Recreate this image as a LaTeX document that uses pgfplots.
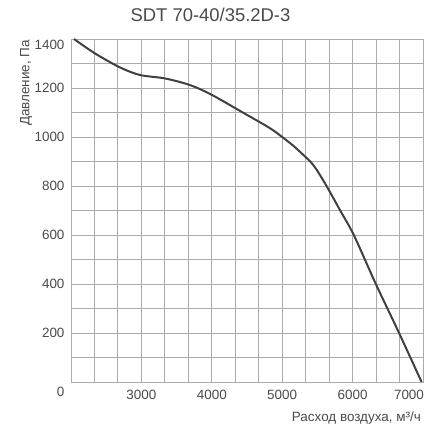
\documentclass[border=0pt]{standalone}
\usepackage{pgfplots}
\pgfplotsset{compat=1.18}
\usepackage{fontspec}
\setmainfont{Liberation Sans}
\definecolor{gridc}{HTML}{ABABAB}
\definecolor{curvec}{HTML}{404040}
\definecolor{textc}{HTML}{4A4A4A}
\begin{document}
\begin{tikzpicture}
\path[use as bounding box] (-71bp,-45bp) rectangle (359bp,382bp);
\begin{axis}[
  at={(0,0)}, anchor=south west,
  scale only axis, width=352bp, height=343bp,
  xmin=2000, xmax=7000, ymin=0, ymax=1400,
  xtick={2000,2333.333,2666.667,3000,3333.333,3666.667,4000,4333.333,4666.667,5000,5333.333,5666.667,6000,6333.333,6666.667,7000},
  xticklabels={,,,3000,,,4000,,,5000,,,6000,,,\hspace*{-28bp}7000},
  ytick={0,100,...,1400},
  yticklabels={\raisebox{-14.8bp}[0pt][0pt]{0},,200,,400,,600,,800,,1000,,1200,,\raisebox{-10.8bp}[0pt][0pt]{1400}},
  grid=major,
  major grid style={gridc, line width=0.9bp},
  axis line style={gridc, line width=0.9bp},
  tick style={draw=none},
  tick label style={font=\fontsize{13.5}{15}\selectfont, text=textc},
  xticklabel style={yshift=-5bp},
  yticklabel style={xshift=-3bp},
  title={SDT 70-40/35.2D-3},
  title style={at={(rel axis cs:0.5,1)}, anchor=base, yshift=12bp, xshift=-36.5bp, font=\fontsize{18.5}{21}\selectfont, text=textc},
  xlabel={Расход воздуха, м³/ч},
  xlabel style={at={(rel axis cs:1,0)}, anchor=north east, inner sep=0pt, yshift=-30bp, xshift=-2bp, font=\fontsize{13.5}{15}\selectfont, text=textc},
  ylabel={Давление, Па},
  ylabel style={at={(rel axis cs:0,1)}, anchor=east, inner sep=0pt, yshift=45bp, xshift=-1bp, font=\fontsize{13.5}{15}\selectfont, text=textc},
  clip=true,
]
\addplot[curvec, line width=2bp, smooth, tension=0.5] coordinates {
(2043,1400) (2341,1341) (2696,1284) (2980,1253) (3335,1239) (3690,1212)
(4000,1172) (4440,1100) (4815,1038) (5000,1000) (5167,962) (5333,918) (5400,900)
(5490,866) (5630,800) (5824,700) (6017,600) (6330,400) (6660,200) (6980,0)
};
\end{axis}
\end{tikzpicture}
\end{document}
